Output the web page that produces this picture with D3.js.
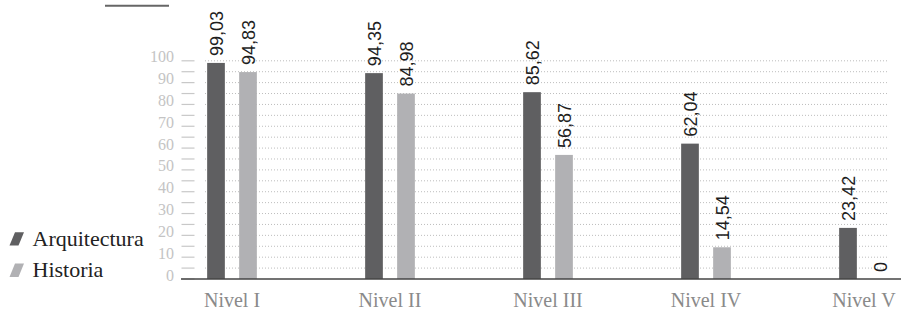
<!DOCTYPE html>
<html>
<head>
<meta charset="utf-8">
<script src="https://cdn.jsdelivr.net/npm/d3@7"></script>
<style>
  html, body { margin: 0; padding: 0; background: #fff; }
  svg { display: block; }
  .serif { font-family: "Liberation Serif", "Times New Roman", serif; }
  .sans { font-family: "Liberation Sans", Arial, sans-serif; }
</style>
</head>
<body>
<svg id="chart" width="901" height="309"></svg>
<script>
const categories = ["Nivel I", "Nivel II", "Nivel III", "Nivel IV", "Nivel V"];
const arquitectura = [99.03, 94.35, 85.62, 62.04, 23.42];
const historia = [94.83, 84.98, 56.87, 14.54, 0];
const valueLabelsArq = ["99,03", "94,35", "85,62", "62,04", "23,42"];
const valueLabelsHist = ["94,83", "84,98", "56,87", "14,54", "0"];
const yTickLabels = [0, 10, 20, 30, 40, 50, 60, 70, 80, 90, 100];
const yMinorTicks = [0, 5, 10, 15, 20, 25, 30, 35, 40, 45, 50, 55, 60, 65, 70, 75, 80, 85, 90, 95, 100];
const seriesNames = ["Arquitectura", "Historia"];
const seriesColors = ["#5f5f61", "#b1b1b4"];

const svg = d3.select("#chart");
const x = d3.scalePoint().domain(categories).range([232, 864]);
const y = d3.scaleLinear().domain([0, 100]).range([279, 60.8]);

const barW = 17.7, off = 7.15;

// top short line
svg.append("line").attr("x1", 105).attr("x2", 169).attr("y1", 5.7).attr("y2", 5.7)
  .attr("stroke", "#666").attr("stroke-width", 2);

// gridlines
svg.append("g").selectAll("line").data(yMinorTicks.filter(d => d > 0)).join("line")
  .attr("x1", 205).attr("x2", 888)
  .attr("y1", d => y(d)).attr("y2", d => y(d))
  .attr("stroke", "#bdbdbd").attr("stroke-width", 1).attr("stroke-dasharray", "1,2");

// y ticks
svg.append("g").selectAll("line").data(yMinorTicks).join("line")
  .attr("x1", 181.5).attr("x2", 194.5)
  .attr("y1", d => y(d)).attr("y2", d => y(d))
  .attr("stroke", "#c8c8c8").attr("stroke-width", 1.2);

// y labels
svg.append("g").selectAll("text").data(yTickLabels).join("text")
  .attr("class", "serif")
  .attr("x", 174).attr("y", d => y(d) - 4)
  .attr("text-anchor", "end").attr("dominant-baseline", "central")
  .style("font-size", "16px")
  .attr("fill", "#c4c4c4")
  .text(d => d);

// bars
const g = svg.append("g");
g.selectAll("rect.a").data(arquitectura).join("rect").attr("class", "a")
  .attr("x", (d, i) => x(categories[i]) - off - barW)
  .attr("width", barW)
  .attr("y", d => y(d)).attr("height", d => y(0) - y(d))
  .attr("fill", seriesColors[0]);
g.selectAll("rect.h").data(historia).join("rect").attr("class", "h")
  .attr("x", (d, i) => x(categories[i]) + off)
  .attr("width", barW)
  .attr("y", d => y(d)).attr("height", d => y(0) - y(d))
  .attr("fill", seriesColors[1]);

// value labels
function addLabels(vals, labels, dx) {
  svg.append("g").selectAll("text").data(vals).join("text")
    .attr("class", "sans")
    .attr("transform", (d, i) => {
      const cx = x(categories[i]) + dx + 6.5;
      const ty = y(d) - 7;
      return `translate(${cx},${ty}) rotate(-90)`;
    })
    .attr("text-anchor", "start")
    .style("font-size", "18px")
    .attr("fill", "#1e1e1e")
    .text((d, i) => labels[i]);
}
addLabels(arquitectura, valueLabelsArq, -off - barW / 2);
addLabels(historia, valueLabelsHist, off + barW / 2);

// baseline
svg.append("line").attr("x1", 181).attr("x2", 901).attr("y1", y(0)).attr("y2", y(0))
  .attr("stroke", "#444").attr("stroke-width", 1.3);

// x labels
svg.append("g").selectAll("text").data(categories).join("text")
  .attr("class", "serif")
  .attr("x", d => x(d)).attr("y", 306.5)
  .attr("text-anchor", "middle")
  .style("font-size", "20px")
  .attr("fill", "#8a8a8a")
  .text(d => d);

// legend
const legendY = [245.6, 277];
const leg = svg.append("g");
seriesNames.forEach((name, i) => {
  const by = legendY[i];
  leg.append("polygon")
    .attr("points", `${9.5},${by} ${18.5},${by} ${24},${by - 13.4} ${15},${by - 13.4}`)
    .attr("fill", seriesColors[i]);
  leg.append("text").attr("class", "serif").attr("x", 32.5).attr("y", by)
    .style("font-size", "22px")
    .attr("fill", "#222")
    .text(name);
});
</script>
</body>
</html>
